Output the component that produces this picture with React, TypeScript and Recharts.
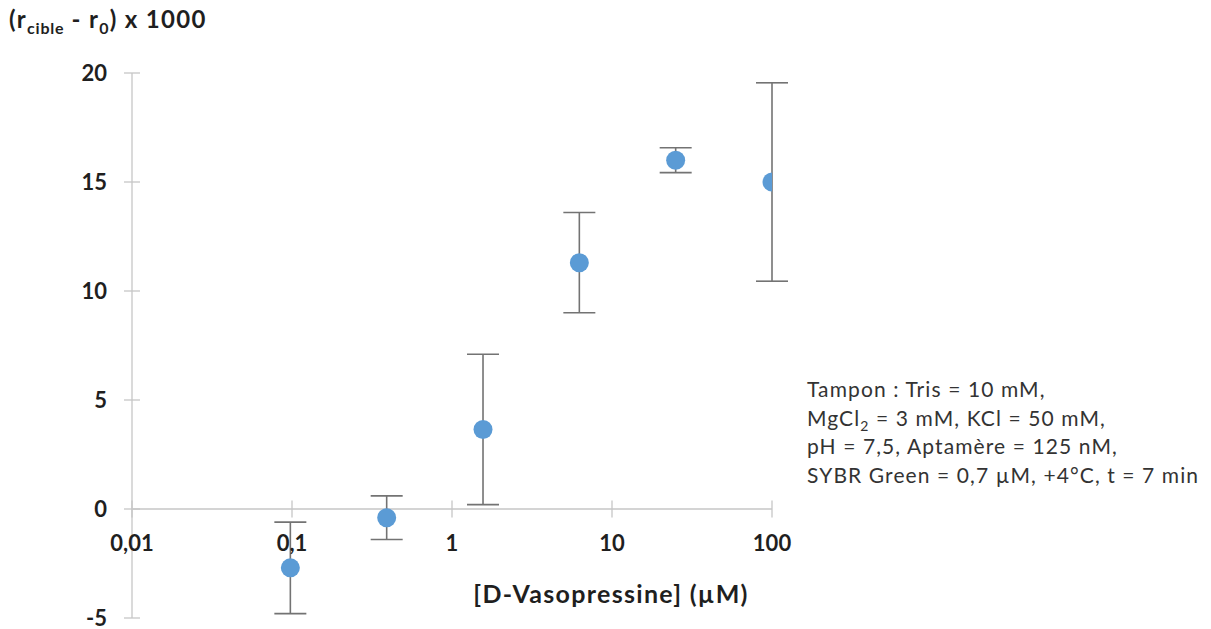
import React from 'react';
import { ScatterChart, Scatter, XAxis, YAxis, ErrorBar, ReferenceLine, ReferenceDot } from 'recharts';

const concentrations = [0.09765625, 0.390625, 1.5625, 6.25, 25, 100];
const signal = [-2.7, -0.4, 3.65, 11.3, 16.0, 15.0];
const errors = [2.1, 1.0, 3.45, 2.3, 0.57, 4.55];
const xTicks = [0.01, 0.1, 1, 10, 100];
const xTickLabels = ['0,01', '0,1', '1', '10', '100'];
const yTicks = [-5, 0, 5, 10, 15, 20];

const data = concentrations.map((x, i) => ({ x, y: signal[i], err: errors[i] }));

const AXIS = '#c6c6c6';
const TEXT = '#1f1f1f';
const FONT = 'Lato, "Open Sans", sans-serif';

const YTick = (props: any) => {
  const { x, y, payload } = props;
  return (
    <g>
      <line x1={x - 8} x2={x + 8} y1={y} y2={y} stroke={AXIS} strokeWidth={1.3} />
      <text x={x - 25} y={y} dy="0.36em" textAnchor="end" fontFamily={FONT} fontWeight={700} fontSize={22} fill={TEXT}>
        {payload.value}
      </text>
    </g>
  );
};

const makeXTickShape = (label: string) => (props: any) => {
  const { cx, cy } = props;
  return (
    <g>
      <line x1={cx} x2={cx} y1={cy - 8.5} y2={cy + 8.5} stroke={AXIS} strokeWidth={1.3} />
      <text x={cx} y={cy + 42} textAnchor="middle" fontFamily={FONT} fontWeight={700} fontSize={22} fill={TEXT}>
        {label}
      </text>
    </g>
  );
};

const Dot = (props: any) => <circle cx={props.cx} cy={props.cy} r={9.5} fill="#5b9bd5" />;

export default function App() {
  return (
    <div style={{ position: 'absolute', left: 0, top: 0, width: 1211, height: 629, background: '#fff', fontFamily: FONT }}>
      <ScatterChart width={1211} height={629} margin={{ top: 73, right: 439, bottom: 11, left: 0 }}>
        <XAxis type="number" dataKey="x" scale="log" domain={[0.01, 100]} ticks={xTicks} hide allowDataOverflow />
        <YAxis
          type="number"
          dataKey="y"
          domain={[-5, 20]}
          ticks={yTicks}
          width={132}
          axisLine={{ stroke: AXIS, strokeWidth: 1.3 }}
          tickLine={false}
          tickSize={0}
          tickMargin={0}
          tick={<YTick />}
          interval={0}
        />
        <ReferenceLine y={0} stroke={AXIS} strokeWidth={1.3} />
        {xTicks.map((t, i) => (
          <ReferenceDot key={t} x={t} y={0} r={0} shape={makeXTickShape(xTickLabels[i])} />
        ))}
        <Scatter data={data} shape={<Dot />} isAnimationActive={false}>
          <ErrorBar dataKey="err" direction="y" width={16} stroke="#737373" strokeWidth={1.6} />
        </Scatter>
      </ScatterChart>
      <div style={{ position: 'absolute', left: 9, top: 4, fontSize: 24, lineHeight: '30px', letterSpacing: 1.3, fontWeight: 700, color: TEXT, whiteSpace: 'nowrap' }}>
        (r<sub style={{ fontSize: 16, lineHeight: 0, letterSpacing: 0.8 }}>cible</sub> - r<sub style={{ fontSize: 16, lineHeight: 0 }}>0</sub>) x 1000
      </div>
      <div style={{ position: 'absolute', left: 311, width: 600, top: 578, textAlign: 'center', fontSize: 25, lineHeight: '30px', letterSpacing: 1.3, fontWeight: 700, color: TEXT, whiteSpace: 'nowrap' }}>
        [D-Vasopressine] (µM)
      </div>
      <div style={{ position: 'absolute', left: 807, top: 375, fontSize: 21, lineHeight: '28.5px', letterSpacing: 1.1, color: '#333', whiteSpace: 'nowrap' }}>
        <div>Tampon : Tris = 10 mM,</div>
        <div>MgCl<sub style={{ fontSize: 14, lineHeight: 0 }}>2</sub> = 3 mM, KCl = 50 mM,</div>
        <div>pH = 7,5, Aptamère = 125 nM,</div>
        <div>SYBR Green = 0,7 µM, +4°C, t = 7 min</div>
      </div>
    </div>
  );
}
